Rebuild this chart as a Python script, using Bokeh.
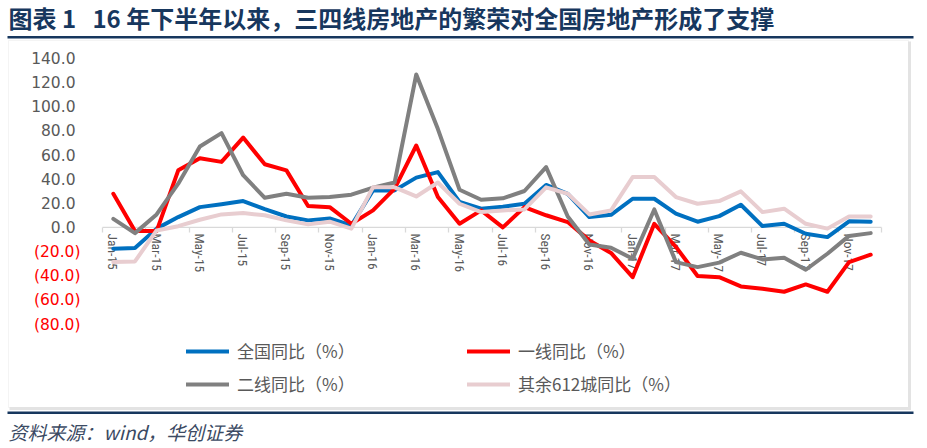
from bokeh.plotting import figure
from bokeh.models import (Range1d, LinearAxis, FixedTicker, NumeralTickFormatter,
                          Legend, LegendItem, Label, BoxAnnotation)
from bokeh.embed import file_html
from bokeh.resources import INLINE

# ---------------- data ----------------
months = ["Jan-15", "Feb-15", "Mar-15", "Apr-15", "May-15", "Jun-15", "Jul-15", "Aug-15",
          "Sep-15", "Oct-15", "Nov-15", "Dec-15",
          "Jan-16", "Feb-16", "Mar-16", "Apr-16", "May-16", "Jun-16", "Jul-16", "Aug-16",
          "Sep-16", "Oct-16", "Nov-16", "Dec-16",
          "Jan-17", "Feb-17", "Mar-17", "Apr-17", "May-17", "Jun-17", "Jul-17", "Aug-17",
          "Sep-17", "Oct-17", "Nov-17", "Dec-17"]

national = [-17.5, -17, -1, 8.5, 16.7, 19, 21.7, 15, 9, 5.8, 7.4, 1.6,
            30.5, 30.5, 41, 45.6, 21, 15.4, 17, 19.5, 35, 27.7, 8.5, 10.4,
            23.6, 23.6, 11.3, 4.7, 9.3, 18.7, 1.1, 3, -5.2, -8, 5, 4.7]
tier1 = [27.7, -3, -3, 47, 57, 54, 74, 52, 47, 17.6, 16.7, 3,
         14, 32, 67.5, 25, 3, 14, 0, 16.7, 10, 4.4, -10.7, -21,
         -41, 3, -16, -40, -41, -48.6, -50.5, -53, -47, -53, -28.6, -22.5]
tier2 = [7, -4.7, 10.7, 36, 66.7, 77.7, 43, 24.4, 27.7, 24.4, 25, 27,
         32.7, 37, 126, 81, 31, 22.8, 24, 30, 49.7, 9, -14, -16.7,
         -25.8, 14.8, -28.6, -32.7, -29, -20.9, -26.4, -25, -34.9, -21.7, -7, -4.7]
others612 = [-28.6, -28, -2.5, 1, 6.3, 10.7, 11.8, 10, 5.8, 2.5, 4.7, -1,
             33, 33, 25.5, 37, 19.5, 12.6, 14, 14.8, 33, 27.7, 10.7, 14,
             41.5, 41.5, 25, 19.5, 21.7, 29.7, 12.6, 15.4, 3, -1, 9, 9]

series_names = ["全国同比（%）", "一线同比（%）", "二线同比（%）", "其余612城同比（%）"]
y_ticks_pos = [0, 20, 40, 60, 80, 100, 120, 140]
y_ticks_neg = [-80, -60, -40, -20]
y_min, y_max = -80, 140

title_text = "图表 1\u00a0\u00a0\u00a016 年下半年以来，三四线房地产的繁荣对全国房地产形成了支撑"
source_text = "资料来源：wind，华创证券"

# ---------------- styles / layout ----------------
C_BLUE = "#0070C0"
C_RED = "#FF0000"
C_GRAY = "#808080"
C_PINK = "#E8CDD0"
NAVY = "#17375E"
TXT = "#595959"
CJK = "Noto Sans CJK SC"

W, H = 927, 448
PLOT_L, PLOT_R, PLOT_T, PLOT_B = 102, 881, 57, 324   # pixel box of the value area

n = len(months)
xs = [i + 0.5 for i in range(n)]

px_x = (PLOT_R - PLOT_L) / n
px_y = (PLOT_B - PLOT_T) / (y_max - y_min)
x_range = Range1d(-PLOT_L / px_x, (W - PLOT_L) / px_x)
y_range = Range1d(y_max - (H - PLOT_T) / px_y, y_max + PLOT_T / px_y)

p = figure(width=W, height=H, x_range=x_range, y_range=y_range,
           output_backend="svg", toolbar_location=None,
           x_axis_location=None, y_axis_location=None,
           min_border=0, min_border_left=0, min_border_right=0,
           min_border_top=0, min_border_bottom=0,
           background_fill_color="white", border_fill_color="white", outline_line_color=None)
p.grid.visible = False

# y axes (positive gray, negative red) pinned at x = 0
ya_pos = LinearAxis(ticker=FixedTicker(ticks=y_ticks_pos), formatter=NumeralTickFormatter(format="0.0"),
                    fixed_location=0, axis_line_color=None, major_tick_line_color=None,
                    minor_tick_line_color=None, major_tick_out=0, major_tick_in=0,
                    major_label_standoff=27, major_label_text_color=TXT,
                    major_label_text_font="DejaVu Sans", major_label_text_font_size="15.5px")
ya_neg = LinearAxis(ticker=FixedTicker(ticks=y_ticks_neg), formatter=NumeralTickFormatter(format="(0.0)"),
                    fixed_location=0, axis_line_color=None, major_tick_line_color=None,
                    minor_tick_line_color=None, major_tick_out=0, major_tick_in=0,
                    major_label_standoff=22, major_label_text_color=C_RED,
                    major_label_text_font="DejaVu Sans", major_label_text_font_size="15.5px")
p.add_layout(ya_pos, "left")
p.add_layout(ya_neg, "left")

# x axis baseline at y = 0 spanning the months
p.line([0, n], [0, 0], line_color="#D9D9D9", line_width=1.3, level="underlay")

# boundary tick marks every 2 months + labels centred on months
xa_ticks = LinearAxis(ticker=FixedTicker(ticks=list(range(0, n + 1, 2))), fixed_location=0,
                      axis_line_color=None,
                      major_tick_line_color="#D9D9D9", major_tick_line_width=1.3,
                      major_tick_out=5, major_tick_in=0, minor_tick_line_color=None,
                      major_label_text_color=None, level="underlay")
label_pos = [xs[i] for i in range(0, n, 2)]
xa_labels = LinearAxis(ticker=FixedTicker(ticks=label_pos),
                       major_label_overrides={xs[i]: months[i] for i in range(0, n, 2)},
                       fixed_location=0, axis_line_color=None, major_tick_line_color=None,
                       minor_tick_line_color=None, major_tick_out=0, major_tick_in=0,
                       major_label_standoff=6, major_label_orientation="vertical",
                       major_label_text_color=TXT,
                       major_label_text_font="'Liberation Sans Narrow', 'Roboto Condensed', Roboto",
                       major_label_text_font_size="13.5px", level="underlay")
p.add_layout(xa_ticks, "below")
p.add_layout(xa_labels, "below")

# lines
kw = dict(line_width=4, line_join="round", line_cap="round")
r_blue = p.line(xs, national, line_color=C_BLUE, **kw)
r_red = p.line(xs, tier1, line_color=C_RED, **kw)
r_gray = p.line(xs, tier2, line_color=C_GRAY, **kw)
r_pink = p.line(xs, others612, line_color=C_PINK, **kw)

leg_kw = dict(glyph_width=43, glyph_height=22, label_standoff=8, spacing=8, padding=0, margin=0,
              border_line_color=None, background_fill_alpha=0,
              label_text_font=CJK, label_text_font_size="17px", label_text_color=TXT)
legA = Legend(items=[LegendItem(label=series_names[0], renderers=[r_blue]),
                     LegendItem(label=series_names[2], renderers=[r_gray])],
              location=(186, H - 396), **leg_kw)
legB = Legend(items=[LegendItem(label=series_names[1], renderers=[r_red]),
                     LegendItem(label=series_names[3], renderers=[r_pink])],
              location=(467, H - 396), **leg_kw)
p.add_layout(legA)
p.add_layout(legB)

# page decorations, given in pixels from the top-left corner
def box(l, r, t, b, **k):
    base = dict(left=l, right=r, top=H - t, bottom=H - b, left_units="screen", right_units="screen",
                top_units="screen", bottom_units="screen")
    base.update(k)
    p.add_layout(BoxAnnotation(**base))

box(7, 913, 35.5, 38, fill_color=NAVY, fill_alpha=1, line_color=None)
box(7, 913, 411, 413.5, fill_color=NAVY, fill_alpha=1, line_color=None)
box(8, 908, 40, 407, fill_alpha=0, line_color="#D9D9D9", line_width=1)
box(907.5, 910.5, 41, 409, fill_color="#E3E3E3", fill_alpha=1, line_color=None)
box(9, 910.5, 406.5, 409.5, fill_color="#E3E3E3", fill_alpha=1, line_color=None)

p.add_layout(Label(x=8, y=H - 17, x_units="screen", y_units="screen", text=title_text,
                   text_font=CJK, text_font_style="bold", text_font_size="24px",
                   text_color=NAVY, text_baseline="middle"))
p.add_layout(Label(x=8, y=H - 431, x_units="screen", y_units="screen", text=source_text,
                   text_font=CJK, text_font_style="italic", text_font_size="19px",
                   text_color="#3B4A63", text_baseline="middle"))

open("out.html", "w").write(file_html(p, INLINE))
